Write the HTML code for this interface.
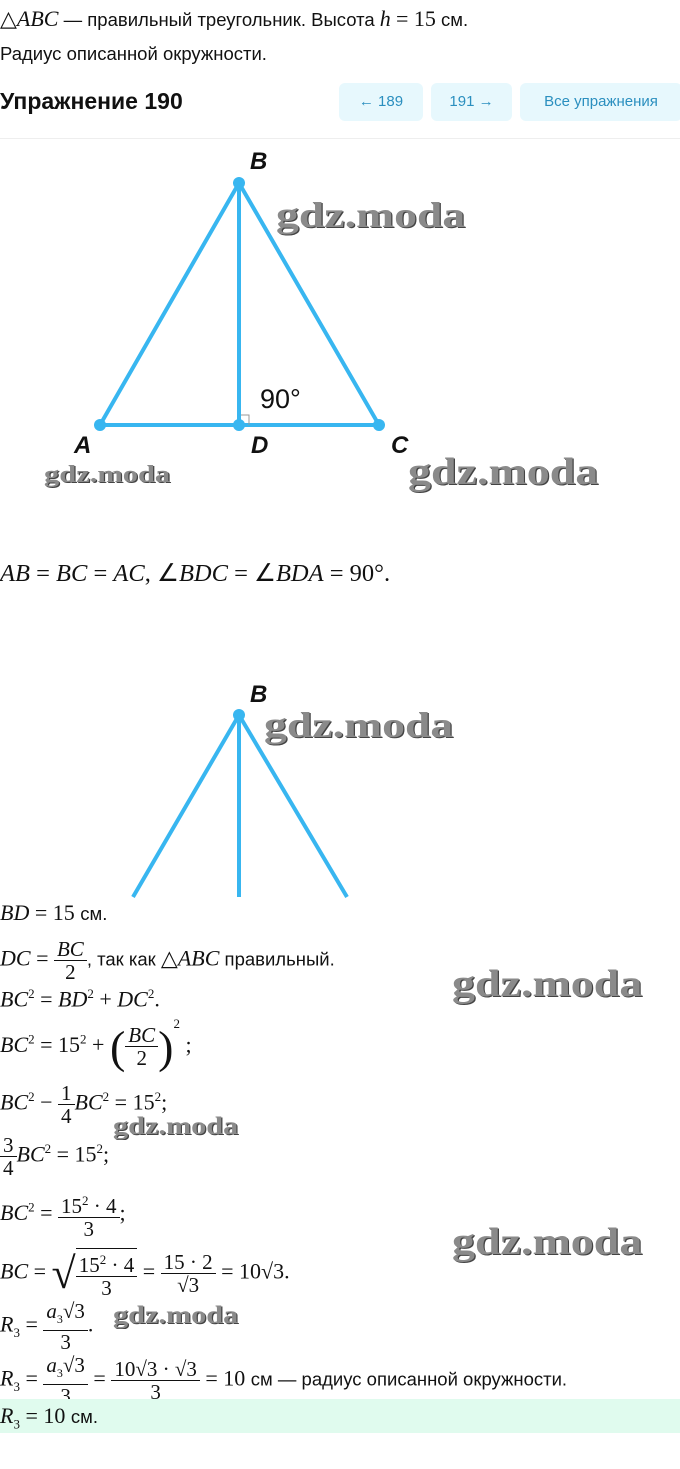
<!DOCTYPE html>
<html><head><meta charset="utf-8"><style>
body{margin:0;width:680px;height:1469px;background:#fff;position:relative;overflow:hidden;font-family:"Liberation Sans",sans-serif;color:#111}
.a{position:absolute;white-space:nowrap}
.t{font-size:18.5px}
.m{font-family:"Liberation Serif",serif;font-size:22px}
i{font-family:"Liberation Serif",serif;font-style:italic}
.fr{display:inline-block;vertical-align:middle;text-align:center;font-family:"Liberation Serif",serif;font-size:21px;line-height:22px}
.fr>span{display:block;padding:0 3px}
.fr>span:first-child{border-bottom:1px solid #111}
.btn{position:absolute;top:83px;height:38px;background:#e7f8fd;border-radius:6px;color:#2b8fbf;font-size:15px;line-height:38px;text-align:center}
.wm{position:absolute;font-family:"Liberation Serif",serif;font-weight:bold;color:#8a8a8a;text-shadow:1px 1px 0 #444;white-space:nowrap;transform-origin:left top}
.lb{position:absolute;font-weight:bold;font-style:italic;font-size:24px;font-family:"Liberation Sans",sans-serif}
sup{font-size:13px}
</style></head><body>
<div class="a t" style="top:6px;left:0"><span class="m">△<i>ABC</i></span> — правильный треугольник. Высота <i class="m">h</i> <span class="m">= 15</span> см.</div>
<div class="a t" style="top:43px;left:0">Радиус описанной окружности.</div>
<div class="a" style="top:88px;left:0;font-size:23px;font-weight:bold">Упражнение 190</div>
<div class="btn" style="left:339px;width:84px">← 189</div>
<div class="btn" style="left:431px;width:81px">191 →</div>
<div class="btn" style="left:520px;width:162px">Все упражнения</div>
<div class="a" style="top:138px;left:0;width:680px;height:1px;background:#eee"></div>

<svg class="a" style="top:0;left:0" width="680" height="900">
<g stroke="#38b6f0" stroke-width="4" fill="none">
<polygon points="239,183 100,425 379,425"/><line x1="239" y1="183" x2="239" y2="425"/>
<line x1="239" y1="715" x2="133" y2="897"/><line x1="239" y1="715" x2="347" y2="897"/><line x1="239" y1="715" x2="239" y2="897"/>
</g>
<polyline points="241,415 249,415 249,425" stroke="#999" fill="none" stroke-width="1"/>
<g fill="#38b6f0"><circle cx="239" cy="183" r="6"/><circle cx="100" cy="425" r="6"/><circle cx="379" cy="425" r="6"/><circle cx="239" cy="425" r="6"/><circle cx="239" cy="715" r="6"/></g>
</svg>
<div class="lb" style="top:148px;left:250px">B</div>
<div class="lb" style="top:432px;left:74px">A</div>
<div class="lb" style="top:432px;left:251px">D</div>
<div class="lb" style="top:432px;left:391px">C</div>
<div class="a" style="top:384px;left:260px;font-size:27px">90°</div>
<div class="lb" style="top:681px;left:250px">B</div>
<div class="wm" style="top:194px;left:276px;font-size:36px;transform:scaleX(1.27)">gdz.moda</div>
<div class="wm" style="top:462px;left:44px;font-size:24px;transform:scaleX(1.27)">gdz.moda</div>
<div class="wm" style="top:450px;left:408px;font-size:38px;transform:scaleX(1.21)">gdz.moda</div>
<div class="wm" style="top:704px;left:264px;font-size:36px;transform:scaleX(1.27)">gdz.moda</div>

<div class="a m" style="top:558px;left:0;font-size:24.5px"><i>AB</i> = <i>BC</i> = <i>AC</i>, ∠<i>BDC</i> = ∠<i>BDA</i> = 90°.</div>

<div class="a m" style="top:900px;left:0"><i>BD</i> = 15 <span class="t" style="font-family:'Liberation Sans'">см.</span></div>
<div class="a m" style="top:938px;left:0"><i>DC</i> = <span class="fr"><span><i>BC</i></span><span>2</span></span><span class="t" style="font-family:'Liberation Sans'">, так как </span>△<i>ABC</i><span class="t" style="font-family:'Liberation Sans'"> правильный.</span></div>
<div class="a m" style="top:986px;left:0"><i>BC</i><sup>2</sup> = <i>BD</i><sup>2</sup> + <i>DC</i><sup>2</sup>.</div>
<div class="a m" style="top:1016px;left:0"><i>BC</i><sup>2</sup> = 15<sup>2</sup> + <span style="font-size:46px;vertical-align:middle">(</span><span class="fr"><span><i>BC</i></span><span>2</span></span><span style="font-size:46px;vertical-align:middle">)</span><sup style="vertical-align:24px">2</sup> ;</div>
<div class="a m" style="top:1082px;left:0"><i>BC</i><sup>2</sup> − <span class="fr"><span>1</span><span>4</span></span><i>BC</i><sup>2</sup> = 15<sup>2</sup>;</div>
<div class="a m" style="top:1134px;left:0"><span class="fr"><span>3</span><span>4</span></span><i>BC</i><sup>2</sup> = 15<sup>2</sup>;</div>
<div class="a m" style="top:1190px;left:0"><i>BC</i><sup>2</sup> = <span class="fr"><span>15<sup>2</sup> · 4</span><span>3</span></span>;</div>
<div class="a m" style="top:1248px;left:0"><i>BC</i> = <span style="font-size:44px;vertical-align:middle">√</span><span class="fr" style="border-top:1px solid #111"><span>15<sup>2</sup> · 4</span><span>3</span></span> = <span class="fr"><span>15 · 2</span><span>√3</span></span> = 10√3.</div>
<div class="a m" style="top:1300px;left:0"><i>R</i><sub style="font-size:13px">3</sub> = <span class="fr"><span><i>a</i><sub style="font-size:12px">3</sub>√3</span><span>3</span></span>.</div>
<div class="a m" style="top:1354px;left:0"><i>R</i><sub style="font-size:13px">3</sub> = <span class="fr"><span><i>a</i><sub style="font-size:12px">3</sub>√3</span><span>3</span></span> = <span class="fr"><span>10√3 · √3</span><span>3</span></span> = 10 <span class="t" style="font-family:'Liberation Sans'">см — радиус описанной окружности.</span></div>
<div class="a" style="top:1399px;left:0;width:680px;height:34px;background:#e0fbee"></div>
<div class="a m" style="top:1403px;left:0"><i>R</i><sub style="font-size:13px">3</sub> = 10 <span class="t" style="font-family:'Liberation Sans'">см.</span></div>

<div class="wm" style="top:962px;left:452px;font-size:38px;transform:scaleX(1.21)">gdz.moda</div>
<div class="wm" style="top:1113px;left:113px;font-size:25px;transform:scaleX(1.21)">gdz.moda</div>
<div class="wm" style="top:1220px;left:452px;font-size:38px;transform:scaleX(1.21)">gdz.moda</div>
<div class="wm" style="top:1302px;left:113px;font-size:25px;transform:scaleX(1.21)">gdz.moda</div>
</body></html>
